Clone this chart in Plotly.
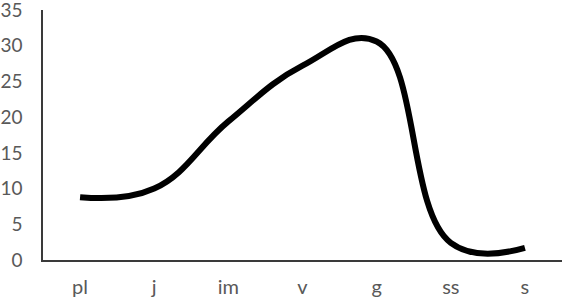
import plotly.graph_objects as go

categories = ["pl", "j", "im", "v", "g", "ss", "s"]
values = [8.8, 10.0, 19.4, 27.2, 30.6, 2.4, 1.7]
y_ticks = [0, 5, 10, 15, 20, 25, 30, 35]

fig = go.Figure()
fig.add_trace(go.Scatter(
    x=categories, y=values, mode="lines",
    line=dict(color="black", width=6, shape="spline", smoothing=1.2),
    hoverinfo="skip",
))

font_color = "#595959"
fig.update_layout(
    width=562, height=300,
    margin=dict(l=43, r=0, t=10, b=40),
    paper_bgcolor="white", plot_bgcolor="white",
    showlegend=False,
    font=dict(family="Lato, sans-serif", size=20, color=font_color),
    xaxis=dict(
        type="category", range=[-0.5, 6.5],
        showgrid=False, zeroline=False, automargin=False,
        showline=True, linecolor="#3a3a3a", linewidth=2,
        ticks="", ticklabelstandoff=8, ticklabeloverflow="allow",
        tickfont=dict(size=20, color=font_color),
    ),
    yaxis=dict(
        range=[0, 35], tickvals=y_ticks,
        showgrid=False, zeroline=False, automargin=False,
        showline=True, linecolor="#3a3a3a", linewidth=1.5,
        ticks="", ticklabelstandoff=15, ticklabeloverflow="allow",
        tickfont=dict(size=19, color=font_color),
    ),
)

fig.write_html(
    "out.html",
    config={"displayModeBar": False},
    post_script="document.body.style.margin='0';",
)
